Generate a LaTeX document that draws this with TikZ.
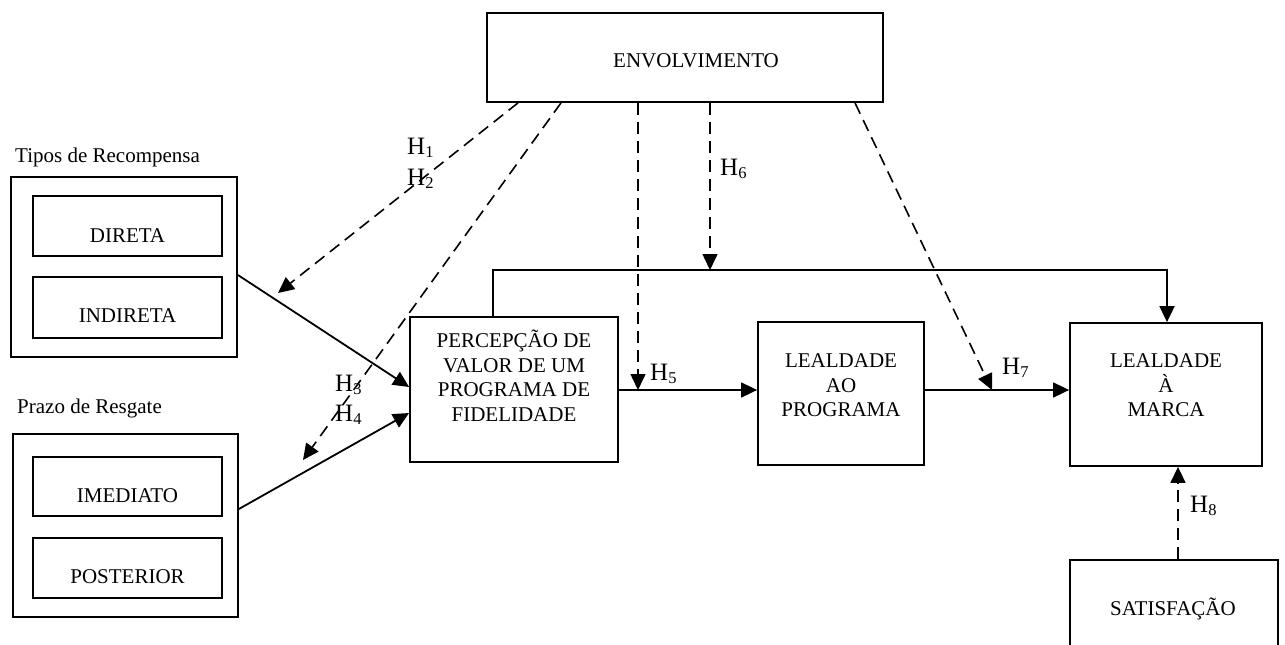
\documentclass[tikz,border=0pt]{standalone}
\usepackage{fontspec}
\setmainfont{Liberation Serif}
\usetikzlibrary{arrows.meta}
\newcommand\hyp[1]{H\raisebox{-3.5pt}{\fontsize{16.5}{16.5}\selectfont #1}}
\begin{document}
\begin{tikzpicture}[x=1pt,y=-1pt,
  box/.style={draw, line width=1.8pt, inner sep=0pt},
  txt/.style={font=\fontsize{21}{24.5}\selectfont, align=center, inner sep=0pt},
  captxt/.style={font=\fontsize{21}{24.5}\selectfont, anchor=base west, inner sep=0pt},
  hl/.style={font=\fontsize{25}{31}\selectfont, anchor=base west, inner sep=0pt},
  dsh/.style={dash pattern=on 12pt off 7pt, line width=1.6pt},
  sol/.style={line width=1.8pt},
  arr/.style={-{Triangle[length=16pt,width=15pt]}}]
\useasboundingbox (0,0) rectangle (1285,645);
% boxes
\node[box, minimum width=396pt, minimum height=89pt] (env) at (685,57.5) {};
\node[box, minimum width=226pt, minimum height=180pt] (rec) at (124,267) {};
\node[box, minimum width=189pt, minimum height=60pt] (dir) at (127.5,226) {};
\node[box, minimum width=189pt, minimum height=61pt] (ind) at (127.5,307.5) {};
\node[box, minimum width=225pt, minimum height=183pt] (prz) at (125.5,525.5) {};
\node[box, minimum width=189pt, minimum height=59pt] (ime) at (127.5,486.5) {};
\node[box, minimum width=189pt, minimum height=60pt] (pos) at (127.5,568) {};
\node[box, minimum width=208pt, minimum height=145pt] (perc) at (514,389.5) {};
\node[box, minimum width=166pt, minimum height=143pt] (lprog) at (841,393.5) {};
\node[box, minimum width=192pt, minimum height=143pt] (lmarca) at (1166,394.5) {};
\node[box, minimum width=208pt, minimum height=90pt] (sat) at (1174,605) {};
% texts
\node[captxt] (tenv) at (613,67) {ENVOLVIMENTO};
\node[captxt] (ttipos) at (15,162) {Tipos de Recompensa};
\node[captxt] (tprazo) at (17,413) {Prazo de Resgate};
\node[txt, anchor=base] (tdir) at (127.5,242) {DIRETA};
\node[txt, anchor=base] (tind) at (127.5,322) {INDIRETA};
\node[txt, anchor=base] (time) at (127.5,502) {IMEDIATO};
\node[txt, anchor=base] (tpos) at (127.5,583) {POSTERIOR};
\node[txt] (tperc) at (514,375.5) {PERCEPÇÃO DE\\VALOR DE UM\\PROGRAMA DE\\FIDELIDADE};
\node[txt] (tlprog) at (841,385.5) {LEALDADE\\AO\\PROGRAMA};
\node[txt] (tlmarca) at (1166,385.5) {LEALDADE\\À\\MARCA};
\node[txt, anchor=base] (tsat) at (1173,615) {SATISFAÇÃO};
% hypothesis labels
\node[hl] (h1) at (407,154) {\hyp{1}};
\node[hl] (h2) at (407,185) {\hyp{2}};
\node[hl] (h3) at (335,391) {\hyp{3}};
\node[hl] (h4) at (335,421) {\hyp{4}};
\node[hl] (h5) at (650,380) {\hyp{5}};
\node[hl] (h6) at (720,175) {\hyp{6}};
\node[hl] (h7) at (1002,374) {\hyp{7}};
\node[hl] (h8) at (1190,512) {\hyp{8}};
% coordinates
\coordinate (tl) at (493,270);
\coordinate (tr) at (1167,270);
\coordinate (c12) at (278,293);
\coordinate (s12) at (518,0);
\coordinate (c34) at (303,460);
\coordinate (s34) at (561,0);
\coordinate (c5) at (638,390);
\coordinate (c6) at (710,270);
\coordinate (c7) at (992,390);
\coordinate (s7) at (855,0);
\coordinate (c8) at (1178,0);
% solid connectors
\draw[sol, arr] (perc.north -| tl) -- (tl) -- (tr) -- (lmarca.north -| tr);
\draw[sol, arr] (perc.east |- c5) -- (lprog.west |- c5);
\draw[sol, arr] (lprog.east |- c5) -- (lmarca.west |- c5);
\draw[sol, arr] ([yshift=-8pt]rec.east) -- ([yshift=2.5pt]perc.west);
\draw[sol, arr] ([yshift=16.5pt]prz.east) -- ([yshift=-23.5pt]perc.west);
% dashed connectors
\draw[dsh, arr] (env.south -| s12) -- (c12);
\draw[dsh, arr] (env.south -| s34) -- (c34);
\draw[dsh, arr] (env.south -| c5) -- (c5);
\draw[dsh, arr] (env.south -| c6) -- (c6);
\draw[dsh, arr] (env.south -| s7) -- (c7);
\draw[dsh, arr] (sat.north -| c8) -- (lmarca.south -| c8);
\end{tikzpicture}
\end{document}
